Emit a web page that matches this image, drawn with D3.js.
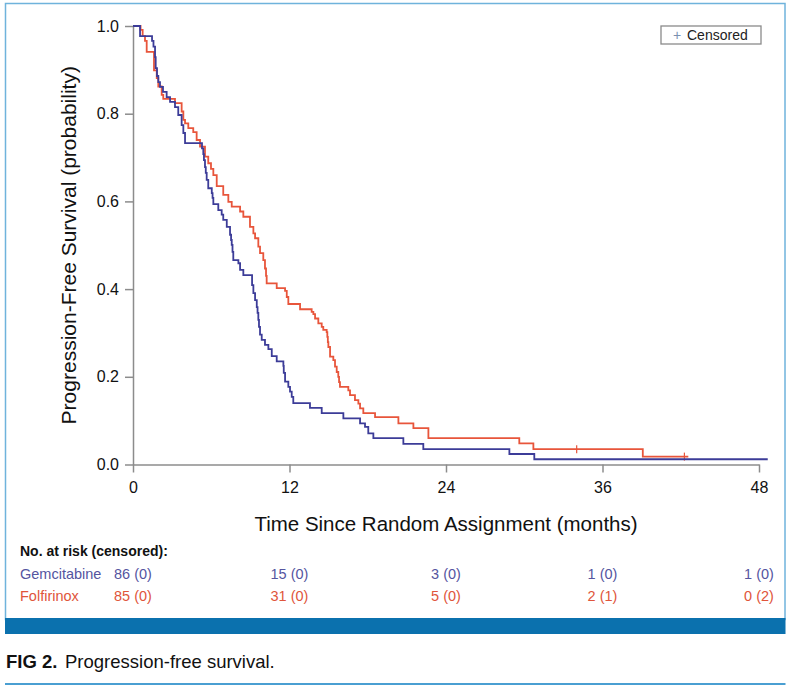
<!DOCTYPE html>
<html>
<head>
<meta charset="utf-8">
<script src="https://cdn.jsdelivr.net/npm/d3@7/dist/d3.min.js"></script>
<style>
  html, body { margin: 0; padding: 0; background: #fff; }
  svg { display: block; font-family: "Liberation Sans", Arial, Helvetica, sans-serif; }
</style>
</head>
<body>
<svg id="chart" width="800" height="693"></svg>
<script>
// ---------- DATA ----------
const xTicks = [0, 12, 24, 36, 48];
const yTicks = [0, 0.2, 0.4, 0.6, 0.8, 1.0];

// Gemcitabine: time of each step (months) and survival after the step
const gemTimes = [0, 0.54, 1.46, 1.57, 1.69, 1.74, 1.84, 1.94, 2.07, 2.30, 2.58, 2.84, 3.22, 3.47, 3.73, 3.86, 3.99,
  5.29, 5.39, 5.44, 5.52, 5.58, 5.65, 5.77, 6.04, 6.10, 6.16, 6.54, 6.80, 6.92, 7.19, 7.44, 7.52, 7.57, 7.63, 7.69,
  8.08, 8.21, 8.46, 9.13, 9.23, 9.36, 9.49, 9.55, 9.61, 9.66, 9.74, 9.87, 10.12, 10.38, 10.64, 11.02, 11.53, 11.56,
  11.66, 11.91, 12.04, 12.17, 12.29, 13.57, 14.47, 16.13, 17.41, 17.79, 18.04, 18.43, 20.73, 22.26, 28.86, 30.77];
const gemSurv = [1.0, 0.977, 0.966, 0.953, 0.929, 0.904, 0.886, 0.872, 0.861, 0.850, 0.838, 0.827, 0.815, 0.797, 0.774, 0.756, 0.733,
  0.721, 0.708, 0.694, 0.678, 0.665, 0.649, 0.630, 0.619, 0.608, 0.594, 0.580, 0.570, 0.558, 0.542, 0.524, 0.512, 0.501, 0.485, 0.466,
  0.459, 0.444, 0.432, 0.409, 0.391, 0.375, 0.359, 0.346, 0.330, 0.314, 0.296, 0.284, 0.273, 0.263, 0.247, 0.235, 0.225, 0.209,
  0.189, 0.177, 0.166, 0.154, 0.140, 0.129, 0.117, 0.105, 0.094, 0.086, 0.071, 0.060, 0.047, 0.035, 0.024, 0.012];
const gemEnd = 48.67;
const gemCensored = [];

// Folfirinox
const folTimes = [0, 0.58, 0.74, 0.92, 1.05, 1.61, 1.82, 1.94, 2.20, 2.32, 3.22, 3.73, 3.86, 3.99, 4.24, 4.62, 4.88, 5.14,
  5.52, 5.77, 5.98, 6.16, 6.42, 6.92, 7.31, 7.57, 8.21, 8.46, 8.97, 9.23, 9.36, 9.61, 9.74, 9.99, 10.12, 10.20, 10.25,
  11.02, 11.66, 11.79, 11.91, 12.81, 13.70, 13.83, 13.96, 14.21, 14.47, 14.59, 14.85, 14.90, 14.94, 14.98, 15.11, 15.36,
  15.49, 15.62, 15.74, 15.80, 15.87, 16.51, 16.64, 17.02, 17.28, 17.41, 17.66, 18.56, 20.35, 21.50, 22.65, 29.62, 30.70, 39.09];
const folSurv = [1.0, 0.991, 0.977, 0.966, 0.941, 0.899, 0.881, 0.862, 0.843, 0.834, 0.824, 0.805, 0.786, 0.778, 0.767, 0.758, 0.740, 0.725,
  0.702, 0.687, 0.674, 0.660, 0.635, 0.615, 0.599, 0.588, 0.577, 0.565, 0.542, 0.527, 0.516, 0.497, 0.482, 0.466, 0.447, 0.430, 0.413,
  0.402, 0.396, 0.382, 0.366, 0.354, 0.348, 0.343, 0.333, 0.322, 0.314, 0.307, 0.302, 0.291, 0.279, 0.268, 0.246, 0.238,
  0.223, 0.211, 0.200, 0.188, 0.177, 0.169, 0.158, 0.147, 0.139, 0.128, 0.117, 0.108, 0.094, 0.083, 0.060, 0.048, 0.035, 0.018];
const folEnd = 42.58;
const folCensored = [34.02, 42.28];

// Number at risk table
const riskLabels = ["Gemcitabine", "Folfirinox"];
const gemAtRisk = [86, 15, 3, 1, 1];
const gemCens   = [0, 0, 0, 0, 0];
const folAtRisk = [85, 31, 5, 2, 0];
const folCens   = [0, 0, 0, 1, 2];

// ---------- DRAW ----------
const svg = d3.select("#chart");
const blue = "#3c3c98", red = "#e8553b";
const blueText = "#55559f", redText = "#e0553b";
const axisGray = "#8c8c8c";

// frame
svg.append("rect").attr("x", 5.5).attr("y", 3.5).attr("width", 779.5).attr("height", 616)
  .attr("fill", "none").attr("stroke", "#6fb3dc").attr("stroke-width", 1.5);
svg.append("rect").attr("x", 5).attr("y", 618).attr("width", 780.5).attr("height", 16).attr("fill", "#0b71ae");
svg.append("rect").attr("x", 5).attr("y", 683).attr("width", 780.5).attr("height", 2).attr("fill", "#4a9fd2");

const x = d3.scaleLinear().domain([0, 48]).range([133, 759]);
const y = d3.scaleLinear().domain([0, 1]).range([464.5, 26]);

// axes
const gx = svg.append("g").attr("transform", `translate(0,${y(0)})`)
  .call(d3.axisBottom(x).tickValues(xTicks).tickSize(8).tickSizeOuter(0).tickPadding(9).tickFormat(d3.format("d")));
const gy = svg.append("g").attr("transform", `translate(${x(0)},0)`)
  .call(d3.axisLeft(y).tickValues(yTicks).tickSize(8).tickSizeOuter(0).tickPadding(6).tickFormat(d3.format(".1f")));
[gx, gy].forEach(g => {
  g.select(".domain").attr("stroke", axisGray).attr("stroke-width", 1.5);
  g.selectAll(".tick line").attr("stroke", axisGray).attr("stroke-width", 1.5);
  g.selectAll(".tick text").attr("fill", "#111").style("font-size", "16px")
    .style("font-family", '"Liberation Sans", Arial, sans-serif');
});

// axis titles
svg.append("text").attr("x", (x(0) + x(48)) / 2).attr("y", 531).attr("text-anchor", "middle")
  .style("font-size", "20.5px").attr("fill", "#111").text("Time Since Random Assignment (months)");
svg.append("text").attr("transform", `translate(76,${(y(0) + y(1)) / 2}) rotate(-90)`).attr("text-anchor", "middle")
  .style("font-size", "21px").attr("fill", "#111").text("Progression-Free Survival (probability)");

// curves
const line = d3.line().x(d => x(d[0])).y(d => y(d[1])).curve(d3.curveStepAfter);
function curve(times, surv, end, color, censored) {
  const pts = times.map((t, i) => [t, surv[i]]);
  pts.push([end, surv[surv.length - 1]]);
  svg.append("path").datum(pts).attr("d", line).attr("fill", "none")
    .attr("stroke", color).attr("stroke-width", 1.8).attr("stroke-linejoin", "miter");
  const survAt = t => { let s = 1; times.forEach((tt, i) => { if (tt <= t) s = surv[i]; }); return s; };
  svg.selectAll(null).data(censored).enter().append("line")
    .attr("x1", d => x(d)).attr("x2", d => x(d))
    .attr("y1", d => y(survAt(d)) - 4).attr("y2", d => y(survAt(d)) + 4)
    .attr("stroke", color).attr("stroke-width", 1.2);
}
curve(folTimes, folSurv, folEnd, red, folCensored);
curve(gemTimes, gemSurv, gemEnd, blue, gemCensored);

// legend
svg.append("rect").attr("x", 661).attr("y", 26).attr("width", 100).attr("height", 18)
  .attr("fill", "#fff").attr("stroke", "#8a8a8a").attr("stroke-width", 1.3);
svg.append("text").attr("x", 677).attr("y", 40).attr("text-anchor", "middle").style("font-size", "14px")
  .attr("fill", "#7a8fb0").text("+");
svg.append("text").attr("x", 687).attr("y", 40).style("font-size", "14px").attr("fill", "#222").text("Censored");

// at-risk table
svg.append("text").attr("x", 20).attr("y", 556).style("font-size", "14px").style("font-weight", "bold")
  .attr("fill", "#111").text("No. at risk (censored):");
const rows = [
  { label: riskLabels[0], n: gemAtRisk, c: gemCens, color: blueText, yy: 579 },
  { label: riskLabels[1], n: folAtRisk, c: folCens, color: redText, yy: 601 }
];
rows.forEach(r => {
  svg.append("text").attr("x", 20).attr("y", r.yy).style("font-size", "14.5px").attr("fill", r.color).text(r.label);
  svg.selectAll(null).data(xTicks).enter().append("text")
    .attr("x", (d) => x(d)).attr("y", r.yy).attr("text-anchor", "middle")
    .style("font-size", "14.5px").attr("fill", r.color)
    .text((d, i) => `${r.n[i]} (${r.c[i]})`);
});

// caption
const cap = svg.append("text").attr("x", 6).attr("y", 668).style("font-size", "18.5px").attr("fill", "#111");
cap.append("tspan").style("font-weight", "bold").text("FIG 2.");
cap.append("tspan").attr("x", 65).text("Progression-free survival.");
</script>
</body>
</html>
